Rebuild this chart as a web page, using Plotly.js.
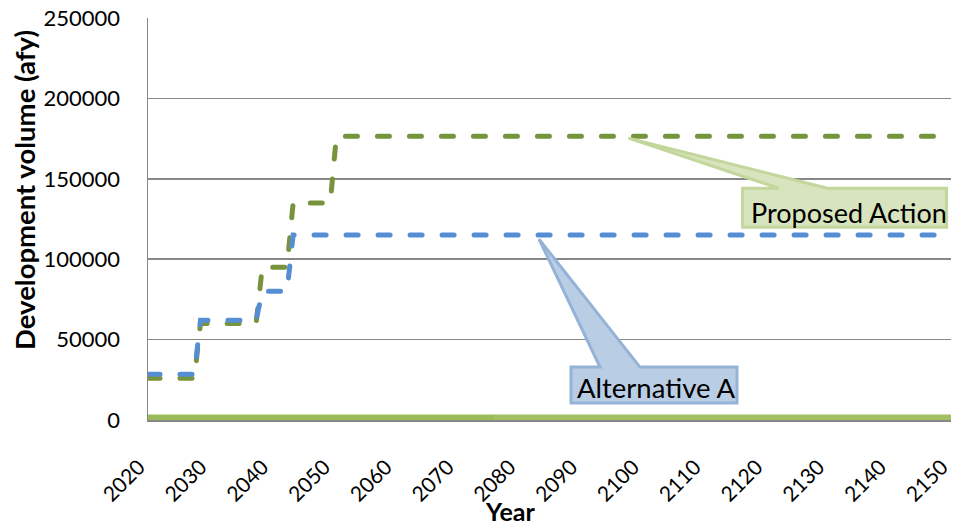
<!DOCTYPE html>
<html>
<head>
<meta charset="utf-8">
<script src="https://cdn.plot.ly/plotly-3.0.1.min.js"></script>
<style>
  html, body { margin: 0; padding: 0; background: #ffffff; }
  #chart { width: 953px; height: 525px; }
</style>
</head>
<body>
<div id="chart"></div>
<script>
// Development volume by year for each scenario (acre-feet per year)
const tickYears = [2020, 2030, 2040, 2050, 2060, 2070, 2080, 2090, 2100, 2110, 2120, 2130, 2140, 2150];
const yTicks = [0, 50000, 100000, 150000, 200000, 250000];

const altAYears = [2020, 2027.5, 2028.5, 2037.5, 2038.5, 2042.5, 2043.5, 2150];
const altAVolume = [28500, 28500, 62000, 62000, 80000, 80000, 115000, 115000];

const proposedYears = [2020, 2027.5, 2028.5, 2037.5, 2038.5, 2042.5, 2043.5, 2049.5, 2050.5, 2150];
const proposedVolume = [26000, 26000, 60000, 60000, 95000, 95000, 135000, 135000, 176500, 176500];

const baseYears = [2020, 2150];
const baseVolume = [1500, 1500];
const baseLateYears = [2076, 2150];
const baseLateVolume = [1600, 1600];

// Callout label positions along each curve (year, value at the pointer tip)
const proposedTipYear = 2097.8;
const altATipYear = 2083.3;

const GREEN_DASH = '#77933c';
const BLUE_DASH = '#558ed5';
const GREEN_SOLID = '#9bbb59';
const GRID = '#878787';
const FONT = 'Lato, "Open Sans", sans-serif';

const traces = [
  { x: baseYears, y: baseVolume, mode: 'lines', name: 'Baseline',
    line: { color: GREEN_SOLID, width: 6 }, hoverinfo: 'skip' },
  { x: baseLateYears, y: baseLateVolume, mode: 'lines', name: 'Baseline (late)',
    line: { color: '#a3c063', width: 5 }, hoverinfo: 'skip' },
  { x: proposedYears, y: proposedVolume, mode: 'lines', name: 'Proposed Action',
    line: { color: GREEN_DASH, width: 5, dash: '12px,20px' } },
  { x: altAYears, y: altAVolume, mode: 'lines', name: 'Alternative A',
    line: { color: BLUE_DASH, width: 5, dash: '12px,20px' } }
];

const proposedTipValue = proposedVolume[proposedVolume.length - 1];
const altATipValue = altAVolume[altAVolume.length - 1];

const layout = {
  width: 953,
  height: 525,
  margin: { l: 148, r: 2, t: 18, b: 105 },
  paper_bgcolor: '#ffffff',
  plot_bgcolor: '#ffffff',
  showlegend: false,
  font: { family: FONT, color: '#000000', size: 22 },
  xaxis: {
    type: 'linear',
    range: [2020, 2150],
    tickvals: tickYears,
    ticktext: tickYears.map(String),
    tickangle: -45,
    ticks: '',
    showgrid: false,
    zeroline: false,
    showline: true,
    linecolor: GRID,
    linewidth: 1.5,
    ticklabelstandoff: 25,
    ticklabelshift: -9,
    ticklabeloverflow: 'allow',
    tickfont: { family: FONT, size: 21, color: '#000000' }
  },
  yaxis: {
    range: [0, 250000],
    tickvals: yTicks,
    ticktext: yTicks.map(String),
    ticks: '',
    showgrid: true,
    gridcolor: GRID,
    gridwidth: 1.5,
    zeroline: false,
    showline: true,
    linecolor: GRID,
    linewidth: 1.5,
    ticklabelstandoff: 22,
    tickfont: { family: FONT, size: 22, color: '#000000' }
  },
  shapes: [
    {
      type: 'path', xref: 'x', yref: 'y',
      xsizemode: 'pixel', ysizemode: 'pixel',
      xanchor: proposedTipYear, yanchor: proposedTipValue,
      path: 'M114,-52 L150,-52 L0,-2 L199,-52 L318,-52 L318,-91 L114,-91 Z',
      fillcolor: '#d7e4bd', line: { color: '#c3d69b', width: 3 }, layer: 'above'
    },
    {
      type: 'path', xref: 'x', yref: 'y',
      xsizemode: 'pixel', ysizemode: 'pixel',
      xanchor: altATipYear, yanchor: altATipValue,
      path: 'M32,-132 L61,-132 L0,-4 L101,-132 L198,-132 L198,-168 L32,-168 Z',
      fillcolor: '#b9cde5', line: { color: '#95b3d7', width: 3 }, layer: 'above'
    }
  ],
  annotations: [
    {
      text: 'Proposed Action', xref: 'x', yref: 'y',
      x: proposedTipYear, y: proposedTipValue,
      xanchor: 'center', yanchor: 'middle', xshift: 220, yshift: -76,
      showarrow: false, font: { family: FONT, size: 27, color: '#000000' }
    },
    {
      text: 'Alternative A', xref: 'x', yref: 'y',
      x: altATipYear, y: altATipValue,
      xanchor: 'center', yanchor: 'middle', xshift: 117, yshift: -152,
      showarrow: false, font: { family: FONT, size: 27.5, color: '#000000' }
    },
    {
      text: '<b>Development volume (afy)</b>', xref: 'paper', yref: 'paper',
      x: -0.1545, y: 0.572, xanchor: 'center', yanchor: 'middle',
      textangle: -90, showarrow: false,
      font: { family: FONT, size: 27.5, color: '#000000' }
    },
    {
      text: '<b>Year</b>', xref: 'paper', yref: 'paper',
      x: 0.4508, y: -0.226, xanchor: 'center', yanchor: 'middle',
      showarrow: false,
      font: { family: FONT, size: 25, color: '#000000' }
    }
  ]
};

Plotly.newPlot('chart', traces, layout, { displayModeBar: false, staticPlot: true }).then(function (gd) {
  // rounded ends on the dashed scenario lines
  const lines = gd.querySelectorAll('.scatterlayer .trace');
  lines.forEach(function (g, i) {
    if (traces[i] && traces[i].line.dash) {
      g.querySelectorAll('path.js-line').forEach(function (p) {
        p.style.strokeLinecap = 'round';
      });
    }
  });
});
</script>
</body>
</html>
